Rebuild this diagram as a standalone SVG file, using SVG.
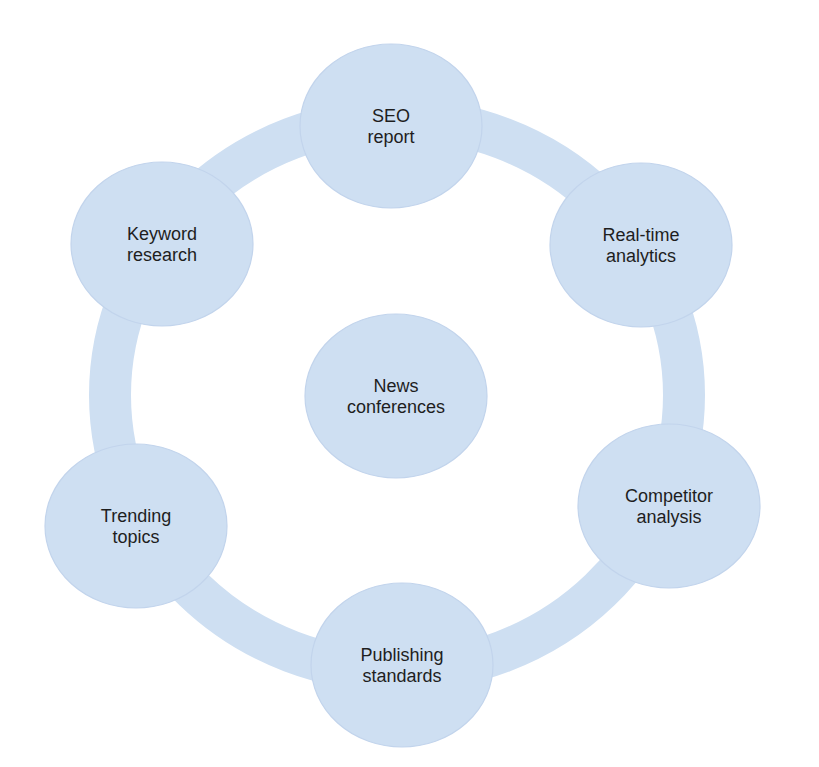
<svg xmlns="http://www.w3.org/2000/svg" width="819" height="767" viewBox="0 0 819 767">
<style>
.node{fill:#cedff2;stroke:#c2d4ec;stroke-width:1.2}
.ring{fill:none;stroke:#cedff2;stroke-width:42}
text{font-family:"Liberation Sans",Arial,sans-serif;font-size:18px;fill:#1e1e1e;text-anchor:middle}
</style>
<rect width="819" height="767" fill="#ffffff"/>
<g id="connectors">
<ellipse class="ring" cx="397" cy="395" rx="287" ry="276"/>
</g>
<g id="seo"><ellipse class="node" cx="391" cy="126" rx="91" ry="82"/><text x="391" y="122">SEO</text><text x="391" y="143">report</text></g>
<g id="keyword"><ellipse class="node" cx="162" cy="244" rx="91" ry="82"/><text x="162" y="240">Keyword</text><text x="162" y="261">research</text></g>
<g id="realtime"><ellipse class="node" cx="641" cy="245" rx="91" ry="82"/><text x="641" y="241">Real-time</text><text x="641" y="262">analytics</text></g>
<g id="competitor"><ellipse class="node" cx="669" cy="506" rx="91" ry="82"/><text x="669" y="502">Competitor</text><text x="669" y="523">analysis</text></g>
<g id="publishing"><ellipse class="node" cx="402" cy="665" rx="91" ry="82"/><text x="402" y="661">Publishing</text><text x="402" y="682">standards</text></g>
<g id="trending"><ellipse class="node" cx="136" cy="526" rx="91" ry="82"/><text x="136" y="522">Trending</text><text x="136" y="543">topics</text></g>
<g id="news"><ellipse class="node" cx="396" cy="396" rx="91" ry="82"/><text x="396" y="392">News</text><text x="396" y="413">conferences</text></g>
</svg>
